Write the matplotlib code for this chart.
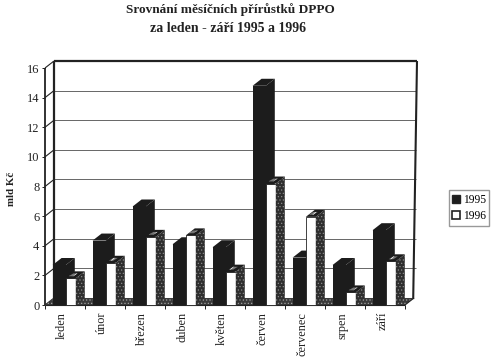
import matplotlib
matplotlib.use('Agg')
import matplotlib.pyplot as plt
from matplotlib.patches import Polygon, Patch

plt.rcParams['font.family'] = ['Liberation Serif', 'DejaVu Serif']
plt.rcParams['hatch.linewidth'] = 0.5

months = ['leden', 'únor', 'březen', 'duben', 'květen', 'červen', 'červenec', 'srpen', 'září']
y1995 = [2.7, 4.35, 6.65, 4.1, 3.9, 14.8, 3.2, 2.7, 5.05]
y1996 = [1.8, 2.85, 4.6, 4.7, 2.25, 8.2, 5.95, 0.85, 2.95]
yticks = [0, 2, 4, 6, 8, 10, 12, 14, 16]

W, H = 494, 361
fig = plt.figure(figsize=(W / 100, H / 100), dpi=100, facecolor='white')
# front plane of the fake 3d box, pixels from the picture
ax = fig.add_axes([45 / W, (H - 305) / H, 360 / W, 237 / H])
ax.set_xlim(0, 9)
ax.set_ylim(0, 16)
for s in ax.spines.values():
    s.set_visible(False)

# depth of the box in data units
dx = 9 / 40
dy = 7 / 14.8
DARK = '#1c1c1c'
STIPPLE = '#2e2e2e'


def poly(pts, **kw):
    ax.add_patch(Polygon(pts, closed=True, clip_on=False, **kw))


def line(xs, ys, color='#333333', lw=0.8, z=1):
    ax.plot(xs, ys, color=color, lw=lw, zorder=z, clip_on=False, solid_capstyle='butt')


def bar_dark(x, w, h, z):
    ax.bar(x, h, w, align='edge', color=DARK, linewidth=0, zorder=z, clip_on=False)
    poly([(x + w, 0), (x + w + dx, dy), (x + w + dx, h + dy), (x + w, h)], facecolor=DARK, linewidth=0, zorder=z)
    poly([(x, h), (x + dx, h + dy), (x + w + dx, h + dy), (x + w, h)], facecolor=DARK, linewidth=0, zorder=z)


def bar_white(x, w, h, z):
    ax.bar(x, h, w, align='edge', color='white', edgecolor='#222222', linewidth=0.6, zorder=z, clip_on=False)
    poly([(x + w, 0), (x + w + dx, dy), (x + w + dx, h + dy), (x + w, h)],
         facecolor=STIPPLE, edgecolor='#8a8a8a', hatch='.....', linewidth=0, zorder=z)
    poly([(x, h), (x + dx, h + dy), (x + w + dx, h + dy), (x + w, h)], facecolor=DARK, linewidth=0, zorder=z)
    # little hatched patch in the middle of the top face
    poly([(x + 0.3 * w, h + 0.3 * dy), (x + 0.3 * w + 0.5 * dx, h + 0.7 * dy),
          (x + 0.75 * w + 0.5 * dx, h + 0.7 * dy), (x + 0.75 * w, h + 0.3 * dy)],
         facecolor='#777777', edgecolor='white', hatch='//////', linewidth=0, zorder=z)


# walls and gridlines
for v in yticks[1:-1]:
    line([dx, 9.28], [v + dy, v + dy], color='#666666', lw=0.7)
for v in yticks:
    line([0, dx], [v, v + dy], color='#222222', lw=0.8)
line([0, 0], [0, 16], color='#222222', lw=1.3, z=2)
line([dx, dx], [dy, 16 + dy], color='#222222', lw=1.6, z=2)
line([dx, 9.3], [16 + dy, 16 + dy], color='#222222', lw=1.6, z=2)
line([9.3, 9 + dx - 0.02], [16 + dy, 0.4], color='#222222', lw=1.5, z=2)

# floor
poly([(0, 0), (dx, dy), (9 + dx, dy), (9, 0)], facecolor='#3a3a3a', edgecolor='#a0a0a0',
     hatch='.....', linewidth=0, zorder=3)
line([0, 9], [0, 0], color='#222222', lw=0.8, z=3)
line([9, 9 + dx], [0, dy], color='#222222', lw=0.8, z=3)

for i in range(len(months)):
    z = 4 + i
    bar_dark(i + 0.19, 0.33, y1995[i], z)
    bar_white(i + 0.52, 0.25, y1996[i], z + 0.5)

ax.set_yticks(yticks)
ax.set_yticklabels([str(v) for v in yticks], fontsize=9, color='#222222')
ax.set_xticks(range(10))
ax.set_xticklabels([])
ax.set_xticks([i + 0.43 for i in range(9)], minor=True)
ax.set_xticklabels(months, minor=True, rotation=90, fontsize=8.8, color='#222222')
ax.tick_params(axis='x', which='major', length=3, width=0.7, color='#222222')
ax.tick_params(axis='x', which='minor', length=0, pad=5)
ax.tick_params(axis='y', length=2, width=0.7, color='#222222', pad=2)

fig.text(230 / W, 1 - 10 / H, 'Srovnání měsíčních přírůstků DPPO', ha='center', va='center',
         fontsize=9.5, fontweight='bold', color='#222222')
fig.text(228 / W, 1 - 28 / H, 'za leden - září 1995 a 1996', ha='center', va='center',
         fontsize=10, fontweight='bold', color='#222222')
fig.text(11 / W, 1 - 189 / H, 'mld Kč', rotation=90, ha='center', va='center',
         fontsize=7.8, fontweight='bold', color='#222222')

handles = [Patch(facecolor=DARK, edgecolor='#222222', label='1995'),
           Patch(facecolor='white', edgecolor='#222222', linewidth=1.2, label='1996')]
fig.legend(handles=handles, loc='center', bbox_to_anchor=(469 / W, 1 - 208 / H), fontsize=8.3,
           frameon=True, fancybox=False, edgecolor='#999999', framealpha=1, handlelength=0.7,
           handleheight=0.7, handletextpad=0.25, borderpad=0.3, labelspacing=0.4, borderaxespad=0)

fig.savefig('out.png', dpi=100)
